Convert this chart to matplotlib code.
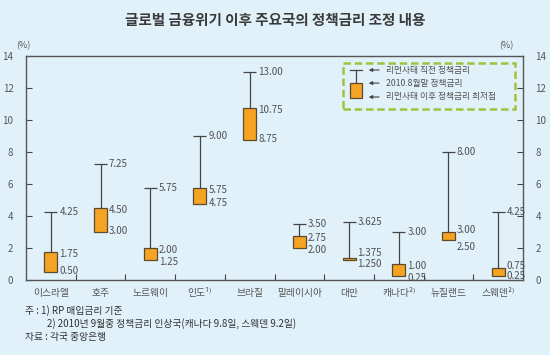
import matplotlib
matplotlib.use("Agg")
import matplotlib.pyplot as plt
from matplotlib.patches import Rectangle, FancyArrowPatch

plt.rcParams['font.family'] = ['Noto Sans CJK KR', 'DejaVu Sans']

countries = ["이스라엘", "호주", "노르웨이", "인도¹⁾", "브라질", "말레이시아", "대만", "캐나다²⁾", "뉴질랜드", "스웨덴²⁾"]
pre_lehman = [4.25, 7.25, 5.75, 9.00, 13.00, 3.50, 3.625, 3.00, 8.00, 4.25]
aug_2010 = [1.75, 4.50, 2.00, 5.75, 10.75, 2.75, 1.375, 1.00, 3.00, 0.75]
post_low = [0.50, 3.00, 1.25, 4.75, 8.75, 2.00, 1.250, 0.25, 2.50, 0.25]
pre_labels = ["4.25", "7.25", "5.75", "9.00", "13.00", "3.50", "3.625", "3.00", "8.00", "4.25"]
aug_labels = ["1.75", "4.50", "2.00", "5.75", "10.75", "2.75", "1.375", "1.00", "3.00", "0.75"]
low_labels = ["0.50", "3.00", "1.25", "4.75", "8.75", "2.00", "1.250", "0.25", "2.50", "0.25"]
yticks = [0, 2, 4, 6, 8, 10, 12, 14]

bg = "#e1f1fa"
orange = "#f4a322"
edge = "#5b4a2e"
line_c = "#444444"
txt_c = "#505050"

fig = plt.figure(figsize=(5.5, 3.55), dpi=100, facecolor=bg)
ax = fig.add_axes([26/550, 75/355, 497/550, 224/355], facecolor=bg)
ax.set_xlim(0, len(countries))
ax.set_ylim(0, 14)

bw = 0.26
for i in range(len(countries)):
    c = i + 0.5
    ax.vlines(c, aug_2010[i], pre_lehman[i], color=line_c, lw=0.9, zorder=2)
    ax.hlines(pre_lehman[i], c - bw/2, c + bw/2, color=line_c, lw=0.9, zorder=2)
    ax.add_patch(Rectangle((c - bw/2, post_low[i]), bw, aug_2010[i] - post_low[i],
                           facecolor=orange, edgecolor=edge, lw=0.9, zorder=3))
    lx = c + 0.17
    ax.text(lx, pre_lehman[i], pre_labels[i], fontsize=7, color=txt_c, va='center', ha='left',
            fontweight='light')
    h = aug_2010[i] - post_low[i]
    if h < 0.7:
        ytop = aug_2010[i] + 0.15
        ybot = post_low[i] - 0.45
        if i == 6:
            ytop = aug_2010[i] + 0.32
            ybot = post_low[i] - 0.25
        if post_low[i] < 0.5:
            ytop = post_low[i] + 0.87
            ybot = post_low[i] + 0.18
            if i == 9:
                ytop = post_low[i] + 0.65
                ybot = post_low[i] + 0.02
    elif h < 1.0:
        ytop = aug_2010[i] - 0.12
        ybot = post_low[i] - 0.1
    else:
        ytop = aug_2010[i] - 0.1
        ybot = post_low[i] + 0.05
    ax.text(lx, ytop, aug_labels[i], fontsize=7, color=txt_c, va='center', ha='left',
            fontweight='light')
    ax.text(lx, ybot, low_labels[i], fontsize=7, color=txt_c, va='center', ha='left',
            fontweight='light')

ax.set_xticks(range(1, len(countries)))
ax.set_xticklabels([])
ax.tick_params(axis='x', direction='in', length=4, color=line_c)
for i, name in enumerate(countries):
    ax.text(i + 0.5, -0.8, name, fontsize=7, color="#555555", ha='center', va='center')

ax.set_yticks(yticks)
ax.set_yticklabels([str(v) for v in yticks], fontsize=7, color="#555555")
ax.tick_params(axis='y', direction='in', length=4, color=line_c, pad=9,
               left=True, right=True, labelleft=True, labelright=True)
for s in ax.spines.values():
    s.set_color("#555555")
    s.set_linewidth(1.0)

ax.text(-0.02, 1.045, "(%)", transform=ax.transAxes, fontsize=6.5, color="#555555", ha='left', va='center')
ax.text(0.98, 1.045, "(%)", transform=ax.transAxes, fontsize=6.5, color="#555555", ha='right', va='center')

# legend
lg = Rectangle((0.638, 0.764), 0.346, 0.205, transform=ax.transAxes, facecolor=bg,
               edgecolor="#9cc43c", lw=1.8, linestyle=(0, (3, 1.5)), zorder=4)
ax.add_patch(lg)
ax.plot([0.664, 0.664], [0.879, 0.9375], transform=ax.transAxes, color=line_c, lw=0.9, zorder=5)
ax.plot([0.652, 0.676], [0.9375, 0.9375], transform=ax.transAxes, color=line_c, lw=0.9, zorder=5)
ax.add_patch(Rectangle((0.652, 0.8125), 0.024, 0.0665, transform=ax.transAxes,
                       facecolor=orange, edgecolor=edge, lw=0.9, zorder=5))
leg_texts = ["리먼사태 직전 정책금리", "2010.8월말 정책금리", "리먼사태 이후 정책금리 최저점"]
leg_y = [0.9375, 0.879, 0.817]
for t, yy in zip(leg_texts, leg_y):
    ax.add_patch(FancyArrowPatch((0.716, yy), (0.684, yy), transform=ax.transAxes,
                                 arrowstyle='-|>', mutation_scale=5, color=line_c, lw=0.8, zorder=5))
    ax.text(0.724, yy, t, transform=ax.transAxes, fontsize=6.3, color=txt_c, va='center', ha='left', zorder=5)

fig.text(0.5, 1 - 20/355, "글로벌 금융위기 이후 주요국의 정책금리 조정 내용", fontsize=10.5,
         fontweight='bold', color="#3a3a3a", ha='center', va='center')
fig.text(25/550, 1 - 311/355, "주 : 1) RP 매입금리 기준", fontsize=7, color="#333333", va='center')
fig.text(47/550, 1 - 324/355, "2) 2010년 9월중 정책금리 인상국(캐나다 9.8일, 스웨덴 9.2일)", fontsize=7,
         color="#333333", va='center')
fig.text(25/550, 1 - 337/355, "자료 : 각국 중앙은행", fontsize=7, color="#333333", va='center')

fig.savefig("out.png", dpi=100, facecolor=bg)
